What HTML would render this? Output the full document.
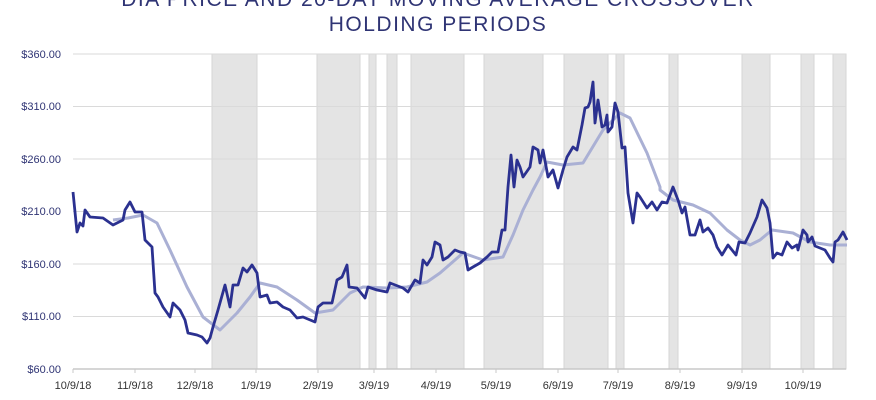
<!DOCTYPE html>
<html><head><meta charset="utf-8"><style>
html,body{margin:0;padding:0;background:#fff;width:876px;height:400px;overflow:hidden}
svg{display:block}
text{font-family:"Liberation Sans",sans-serif}
</style></head><body>
<svg width="876" height="400" xmlns="http://www.w3.org/2000/svg">
<text x="438" y="6" text-anchor="middle" font-size="21" fill="#2f3474" letter-spacing="1.5">DIA PRICE AND 20-DAY MOVING AVERAGE CROSSOVER</text>
<text x="438" y="31" text-anchor="middle" font-size="21" fill="#2f3474" letter-spacing="1.5">HOLDING PERIODS</text>
<g fill="#e4e4e4" stroke="#d6d6d6" stroke-width="1">
<rect x="212" y="54" width="45" height="315"/><rect x="317" y="54" width="43" height="315"/>
<rect x="369" y="54" width="7" height="315"/><rect x="387" y="54" width="10" height="315"/>
<rect x="411" y="54" width="53" height="315"/><rect x="484" y="54" width="59" height="315"/>
<rect x="564" y="54" width="44" height="315"/><rect x="616" y="54" width="8" height="315"/>
<rect x="669" y="54" width="9" height="315"/><rect x="742" y="54" width="28" height="315"/>
<rect x="801" y="54" width="13" height="315"/><rect x="833" y="54" width="13" height="315"/>
</g>
<g stroke="#dadada" stroke-width="1">
<line x1="73" y1="54" x2="846" y2="54"/><line x1="73" y1="106.5" x2="846" y2="106.5"/>
<line x1="73" y1="159" x2="846" y2="159"/><line x1="73" y1="211.5" x2="846" y2="211.5"/>
<line x1="73" y1="264" x2="846" y2="264"/><line x1="73" y1="316.5" x2="846" y2="316.5"/>
</g>
<line x1="73" y1="369" x2="846" y2="369" stroke="#c8c8c8" stroke-width="1.5"/>
<g stroke="#c8c8c8"><line x1="73" y1="369" x2="73" y2="373"/><line x1="135" y1="369" x2="135" y2="373"/><line x1="195" y1="369" x2="195" y2="373"/><line x1="256" y1="369" x2="256" y2="373"/><line x1="318" y1="369" x2="318" y2="373"/><line x1="374" y1="369" x2="374" y2="373"/><line x1="436" y1="369" x2="436" y2="373"/><line x1="496" y1="369" x2="496" y2="373"/><line x1="558" y1="369" x2="558" y2="373"/><line x1="618" y1="369" x2="618" y2="373"/><line x1="680" y1="369" x2="680" y2="373"/><line x1="742" y1="369" x2="742" y2="373"/><line x1="803" y1="369" x2="803" y2="373"/></g>
<g font-size="11" fill="#2f3474" text-anchor="end">
<text x="61" y="58">$360.00</text><text x="61" y="110">$310.00</text><text x="61" y="163">$260.00</text><text x="61" y="215">$210.00</text><text x="61" y="268">$160.00</text><text x="61" y="320">$110.00</text><text x="61" y="373">$60.00</text>
</g>
<g font-size="11" fill="#333" text-anchor="middle">
<text x="73" y="389">10/9/18</text><text x="135" y="389">11/9/18</text><text x="195" y="389">12/9/18</text><text x="256" y="389">1/9/19</text><text x="318" y="389">2/9/19</text><text x="374" y="389">3/9/19</text><text x="436" y="389">4/9/19</text><text x="496" y="389">5/9/19</text><text x="558" y="389">6/9/19</text><text x="618" y="389">7/9/19</text><text x="680" y="389">8/9/19</text><text x="742" y="389">9/9/19</text><text x="803" y="389">10/9/19</text>
</g>
<polyline fill="none" stroke="#aab0d4" stroke-width="3" stroke-linejoin="round" points="113,220 128,218 143,215 157,223 170,250 187,287 203,317 220,330 237,313 250,297 260,283 277,287 297,300 315,313 333,310 350,293 363,287 387,288 407,287 427,282 440,273 463,253 483,260 503,257 513,235 523,210 533,190 540,177 547,162 563,165 583,163 603,130 620,113 630,118 647,153 660,187 660,190 673,200 693,205 710,213 727,230 740,240 750,245 760,240 772,230 793,233 810,242 830,245 847,245"/>
<polyline fill="none" stroke="#2b3190" stroke-width="2.8" stroke-linejoin="round" points="73,192 77,232 80,223 83,226 85,210 90,217 103,218 113,225 123,220 125,210 130,202 135,212 142,212 145,240 152,247 155,293 158,297 163,307 170,317 173,303 180,310 185,320 188,333 197,335 202,337 207,343 210,338 213,327 218,310 225,285 230,307 233,285 238,285 243,268 247,272 252,265 257,273 260,297 267,295 270,303 277,302 283,307 290,310 297,318 303,317 315,322 318,307 323,303 332,303 337,280 342,277 347,265 349,287 357,288 365,298 368,287 377,290 387,292 390,283 403,288 408,292 415,280 420,283 423,260 427,265 432,257 435,242 440,245 443,260 448,257 455,250 460,252 465,253 468,270 473,267 480,263 487,257 492,252 498,252 502,230 505,230 508,187 511,155 514,187 517,160 520,167 523,177 530,167 533,147 538,150 540,163 543,150 548,177 553,170 558,188 563,170 567,157 573,147 577,150 582,125 585,108 588,107 590,102 593,82 595,123 598,100 602,127 605,125 607,115 608,132 612,127 615,103 618,112 622,148 625,147 628,193 633,223 637,193 640,197 647,208 652,202 657,210 662,202 667,203 673,187 678,200 682,213 685,207 690,235 695,235 700,220 703,232 708,228 713,235 717,247 722,255 728,245 732,250 736,255 739,242 745,243 750,233 757,217 762,200 767,208 770,223 773,258 777,253 782,255 787,242 792,248 797,245 798,250 803,230 807,235 808,242 812,237 815,246 820,248 825,250 830,258 833,262 835,242 838,240 843,232 847,240"/>
</svg>
</body></html>
